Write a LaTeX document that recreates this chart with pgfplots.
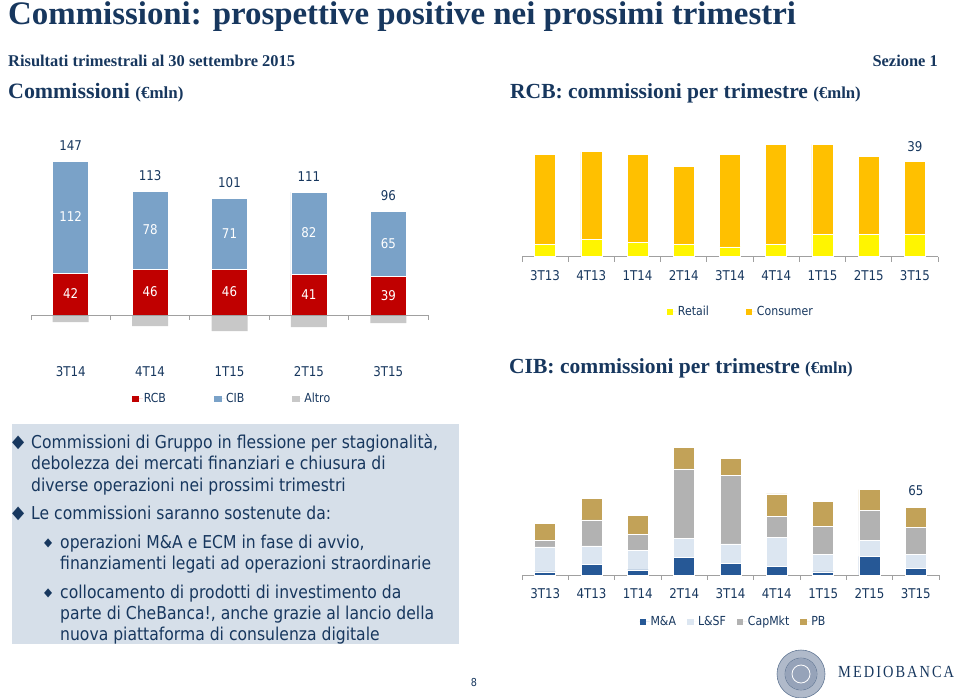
\documentclass[border=0pt]{standalone}
\usepackage{fontspec}
\usepackage{pgfplots}
\pgfplotsset{compat=1.18}
\setmainfont{DejaVu Sans}[FakeStretch=0.88]
\newfontfamily\headfont{Liberation Serif}
\newfontfamily\logofont{Liberation Serif}[LetterSpace=12, FakeStretch=0.85]
\definecolor{navy}{RGB}{23,55,94}
\definecolor{rcbred}{RGB}{192,0,0}
\definecolor{cibblue}{RGB}{122,162,200}
\definecolor{altrogray}{RGB}{200,200,200}
\definecolor{retail}{RGB}{255,245,0}
\definecolor{consumer}{RGB}{255,192,0}
\definecolor{macol}{RGB}{38,88,150}
\definecolor{lsfcol}{RGB}{220,230,241}
\definecolor{capcol}{RGB}{178,178,178}
\definecolor{pbcol}{RGB}{194,162,88}
\definecolor{boxcol}{RGB}{214,223,233}
\definecolor{axisgray}{RGB}{160,160,160}
\definecolor{sealcol}{RGB}{150,163,185}

\pgfplotsset{
  barchart/.style={
    hide y axis,
    axis x line*=bottom,
    x axis line style={draw=none},
    xtick style={draw=none},
    xticklabel style={anchor=north, inner sep=0pt, text=navy, font=\fontsize{13.5}{14}\selectfont},
    clip=false,
  },
  overlay/.style={hide axis, clip=false},
  lbl/.style={draw=none, mark=none, forget plot, nodes near coords, point meta=explicit symbolic,
    nodes near coords style={anchor=center, font=\fontsize{13.5}{14}\selectfont, #1}},
  leg/.style n args={4}{
    legend image code/.code={\fill[##1, draw=none] (0bp,-3.3bp) rectangle (#3,3.3bp); \path (0bp,0bp) -- (#4,0bp);},
    legend cell align=left,
    legend style={draw=none, fill=none, at={#1}, anchor=center, legend columns=-1,
    font=\fontsize{12.5}{13}\selectfont, text=navy, inner sep=0pt, nodes={inner sep=1bp},
    /tikz/every even column/.append style={column sep=#2}}},
}

\begin{document}
\begin{tikzpicture}[x=1bp,y=-1bp]
\path[use as bounding box] (0,0) rectangle (960,698);

% ---------- titles ----------
\node[anchor=base west, inner sep=0, text=navy, font=\headfont\bfseries\fontsize{33}{33}\selectfont] at (8,25) {Commissioni: prospettive positive nei prossimi trimestri};
\node[anchor=base west, inner sep=0, text=navy, font=\headfont\bfseries\fontsize{16.5}{17}\selectfont] at (8,67) {Risultati trimestrali al 30 settembre 2015};
\node[anchor=base east, inner sep=0, text=navy, font=\headfont\bfseries\fontsize{16.5}{17}\selectfont] at (938,67) {Sezione 1};
\node[anchor=base west, inner sep=0, text=navy, font=\headfont\bfseries\fontsize{22}{22}\selectfont] at (8,99) {Commissioni {\fontsize{17}{17}\selectfont(€mln)}};
\node[anchor=base west, inner sep=0, text=navy, font=\headfont\bfseries\fontsize{21.6}{22}\selectfont] at (510,99) {RCB: commissioni per trimestre {\fontsize{16.8}{17}\selectfont(€mln)}};
\node[anchor=base west, inner sep=0, text=navy, font=\headfont\bfseries\fontsize{21.6}{22}\selectfont] at (509,373) {CIB: commissioni per trimestre {\fontsize{16.8}{17}\selectfont(€mln)}};

% ---------- text box ----------
\fill[boxcol] (12,424) rectangle (459,644);
\begin{scope}[every node/.style={anchor=base west, inner sep=0, text=navy, font=\fontsize{17.8}{18}\selectfont}]
\node[font=\fontsize{18}{18}\selectfont] at (12,447) {◆};
\node at (31,448) {Commissioni di Gruppo in flessione per stagionalità,};
\node at (31,469) {debolezza dei mercati finanziari e chiusura di};
\node at (31,491) {diverse operazioni nei prossimi trimestri};
\node[font=\fontsize{18}{18}\selectfont] at (12,518) {◆};
\node at (31,519) {Le commissioni saranno sostenute da:};
\node[font=\fontsize{12}{12}\selectfont] at (44,546) {◆};
\node at (60,548) {operazioni M\&A e ECM in fase di avvio,};
\node at (60,569) {finanziamenti legati ad operazioni straordinarie};
\node[font=\fontsize{12}{12}\selectfont] at (44,596) {◆};
\node at (60,598) {collocamento di prodotti di investimento da};
\node at (60,619) {parte di CheBanca!, anche grazie al lancio della};
\node at (60,640) {nuova piattaforma di consulenza digitale};
\end{scope}

% page number and logo
\node[text=navy, font=\fontsize{11}{11}\selectfont] at (474,683) {8};
\fill[sealcol!75!white] (801,674) circle (24);
\draw[sealcol!60!navy, line width=0.6] (801,674) circle (24);
\draw[sealcol!60!navy, line width=0.6] (801,674) circle (16);
\fill[sealcol] (801,674) circle (15.5);
\draw[white, line width=0.8] (801,674) circle (9);
\node[anchor=west, inner sep=0, text=navy, font=\logofont\fontsize{17}{17}\selectfont] at (838,672) {MEDIOBANCA};

% ---------- left chart: Commissioni ----------
\begin{axis}[barchart,
  at={(31bp,-366bp)}, anchor=south west,
  x=79.4bp, y=1bp, xmin=-0.5, xmax=4.5, ymin=-51, ymax=160,
  ybar stacked, bar width=36bp,
  xtick={0,1,2,3,4}, xticklabels={3T14,4T14,1T15,2T15,3T15}]
\addplot[fill=rcbred, draw=white, line width=0.6bp] coordinates {(0,42) (1,46) (2,46) (3,41) (4,39)};
\addplot[fill=cibblue, draw=white, line width=0.6bp] coordinates {(0,112) (1,78) (2,71) (3,82) (4,65)};
\end{axis}
\begin{axis}[overlay,
  at={(31bp,-366bp)}, anchor=south west,
  x=79.4bp, y=1bp, xmin=-0.5, xmax=4.5, ymin=-51, ymax=160,
  leg={(0.505,-0.156)}{47bp}{7.5bp}{11bp}]
\addlegendimage{fill=rcbred, draw=none}
\addlegendimage{fill=cibblue, draw=none}
\addlegendimage{fill=altrogray, draw=none}
\addplot[ybar, bar width=36bp, bar shift=0pt, fill=altrogray, draw=none, forget plot] coordinates {(0,-7) (1,-11) (2,-16) (3,-12) (4,-8)};
\draw[axisgray, line width=0.8bp] (axis cs:-0.5,0) -- (axis cs:4.5,0);
\pgfplotsinvokeforeach{-0.5,0.5,1.5,2.5,3.5,4.5}{\draw[axisgray, line width=0.8bp] (axis cs:#1,0) -- ++(0bp,-5bp);}
\addplot[lbl={text=white}] coordinates {(0,21)[42] (1,23)[46] (2,23)[46] (3,20.5)[41] (4,19.5)[39]};
\addplot[lbl={text=white}] coordinates {(0,98)[112] (1,85)[78] (2,81.5)[71] (3,82)[82] (4,71.5)[65]};
\addplot[lbl={text=navy, yshift=15bp}] coordinates {(0,154)[147] (1,124)[113] (2,117)[101] (3,123)[111] (4,104)[96]};
\legend{RCB,CIB,Altro}
\end{axis}

% ---------- right top chart: RCB ----------
\begin{axis}[barchart,
  at={(522bp,-270bp)}, anchor=south west,
  x=46.22bp, y=2.44bp, xmin=-0.5, xmax=8.5, ymin=-5.45, ymax=50,
  ybar stacked, bar width=21bp,
  xtick={0,...,8}, xticklabels={3T13,4T13,1T14,2T14,3T14,4T14,1T15,2T15,3T15}]
\addplot[fill=retail, draw=white, line width=0.6bp] coordinates {(0,5) (1,7) (2,6) (3,5) (4,4) (5,5) (6,9) (7,9) (8,9)};
\addplot[fill=consumer, draw=white, line width=0.6bp] coordinates {(0,37) (1,36) (2,36) (3,32) (4,38) (5,41) (6,37) (7,32) (8,30)};
\draw[axisgray, line width=0.8bp] (axis cs:-0.5,0) -- (axis cs:8.5,0);
\pgfplotsinvokeforeach{-0.5,0.5,1.5,2.5,3.5,4.5,5.5,6.5,7.5,8.5}{\draw[axisgray, line width=0.8bp] (axis cs:#1,0) -- ++(0bp,-5bp);}
\end{axis}
\begin{axis}[overlay,
  at={(522bp,-270bp)}, anchor=south west,
  x=46.22bp, y=2.44bp, xmin=-0.5, xmax=8.5, ymin=-5.45, ymax=50,
  leg={(0.525,-0.31)}{36bp}{6.5bp}{10bp}]
\addlegendimage{fill=retail, draw=none}
\addlegendimage{fill=consumer, draw=none}
\addplot[lbl={text=navy, yshift=15bp}] coordinates {(8,39)[39]};
\legend{Retail,Consumer}
\end{axis}

% ---------- right bottom chart: CIB ----------
\begin{axis}[barchart,
  at={(522bp,-588bp)}, anchor=south west,
  x=46.33bp, y=1.04bp, xmin=-0.5, xmax=8.5, ymin=-12.5, ymax=130,
  ybar stacked, bar width=21bp,
  xtick={0,...,8}, xticklabels={3T13,4T13,1T14,2T14,3T14,4T14,1T15,2T15,3T15}]
\addplot[fill=macol, draw=white, line width=0.6bp] coordinates {(0,3) (1,10) (2,5) (3,17) (4,11) (5,8) (6,3) (7,18) (8,6)};
\addplot[fill=lsfcol, draw=white, line width=0.6bp] coordinates {(0,24) (1,18) (2,19) (3,18) (4,19) (5,28) (6,17) (7,15) (8,14)};
\addplot[fill=capcol, draw=white, line width=0.6bp] coordinates {(0,6) (1,25) (2,15) (3,67) (4,66) (5,20) (6,27) (7,29) (8,26)};
\addplot[fill=pbcol, draw=white, line width=0.6bp] coordinates {(0,17) (1,21) (2,18) (3,21) (4,16) (5,22) (6,24) (7,20) (8,19)};
\draw[axisgray, line width=0.8bp] (axis cs:-0.5,0) -- (axis cs:8.5,0);
\pgfplotsinvokeforeach{-0.5,0.5,1.5,2.5,3.5,4.5,5.5,6.5,7.5,8.5}{\draw[axisgray, line width=0.8bp] (axis cs:#1,0) -- ++(0bp,-5bp);}
\end{axis}
\begin{axis}[overlay,
  at={(522bp,-588bp)}, anchor=south west,
  x=46.33bp, y=1.04bp, xmin=-0.5, xmax=8.5, ymin=-12.5, ymax=130,
  leg={(0.506,-0.229)}{10bp}{6.5bp}{10bp}]
\addlegendimage{fill=macol, draw=none}
\addlegendimage{fill=lsfcol, draw=none}
\addlegendimage{fill=capcol, draw=none}
\addlegendimage{fill=pbcol, draw=none}
\addplot[lbl={text=navy, yshift=17bp}] coordinates {(8,65)[65]};
\legend{M\&A,L\&SF,CapMkt,PB}
\end{axis}
\end{tikzpicture}
\end{document}
